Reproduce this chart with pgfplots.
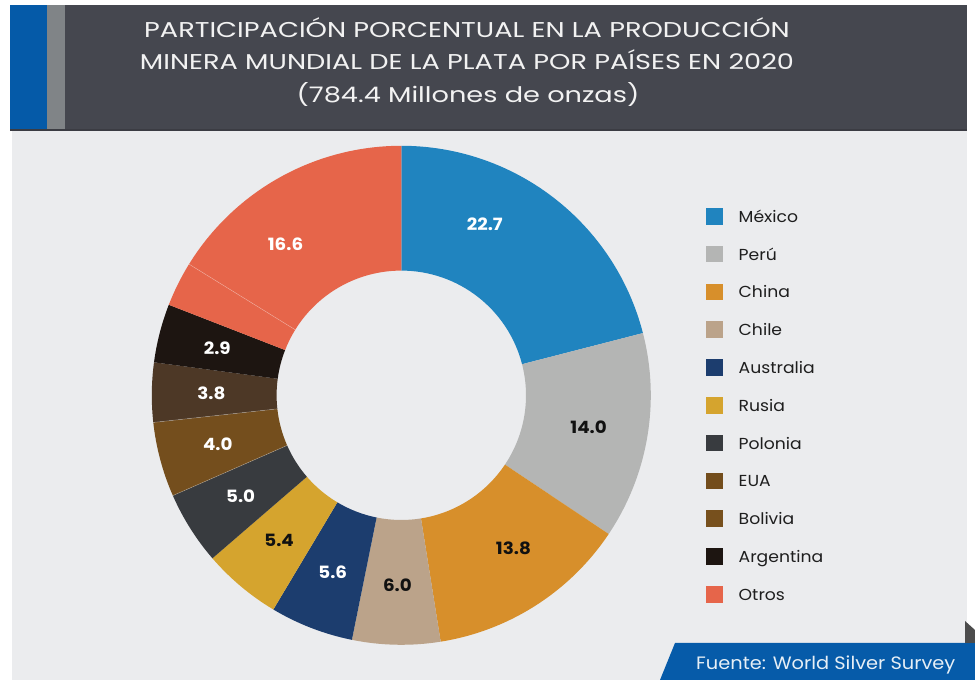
\documentclass[border=0pt]{standalone}
\usepackage{pgfplots}
\usepackage{pgfplotstable}
\pgfplotsset{compat=1.18}
\usepackage{fontspec}
\setmainfont{Poppins}[FakeStretch=1.08]
\newfontfamily\titlefont{Poppins}[FakeStretch=1.27]

\definecolor{bgc}{HTML}{EBECEE}
\definecolor{hdr}{HTML}{45474F}
\definecolor{stripeblue}{HTML}{055AA8}
\definecolor{stripegray}{HTML}{808487}
\definecolor{footblue}{HTML}{065BA9}
\definecolor{cMex}{HTML}{2084BF}
\definecolor{cPer}{HTML}{B4B5B4}
\definecolor{cChi}{HTML}{D78F2B}
\definecolor{cChl}{HTML}{BBA38A}
\definecolor{cAus}{HTML}{1C3D6E}
\definecolor{cRus}{HTML}{D5A42E}
\definecolor{cPol}{HTML}{383B3F}
\definecolor{cEUA}{HTML}{744E1D}
\definecolor{cBol}{HTML}{4D3826}
\definecolor{lEUA}{HTML}{734D1C}
\definecolor{lBol}{HTML}{77501D}
\definecolor{cArg}{HTML}{1D1511}
\definecolor{cOtr}{HTML}{E6654A}
\definecolor{legtext}{HTML}{1E1E1E}
\definecolor{labdark}{HTML}{111111}

\newcommand\ttl{\titlefont\fontsize{21.5}{24}\selectfont}
\newcommand\leg{\fontsize{16}{19}\selectfont}
\newcommand\lab{\fontsize{17}{20}\selectfont\bfseries}

% share = size of the slice as drawn (percent of the ring), label = printed value
\pgfplotstableread[col sep=comma]{
name,share,label,fill,lcol,tcol,dl
México,21.0,22.7,cMex,cMex,white,11.7
Perú,13.4,14.0,cPer,cPer,labdark,0
China,13.1,13.8,cChi,cChi,labdark,3.5
Chile,5.7,6.0,cChl,cChl,labdark,0
Australia,5.4,5.6,cAus,cAus,white,0
Rusia,5.1,5.4,cRus,cRus,labdark,0
Polonia,4.75,5.0,cPol,cPol,white,0
EUA,4.85,4.0,cEUA,lEUA,white,0
Bolivia,3.85,3.8,cBol,lBol,white,0
Argentina,3.8,2.9,cArg,cArg,white,0
Otros,2.9,{},cOtr,cOtr,white,0
Otros,16.2,16.6,cOtr,cOtr,white,8.4
}\slices

\begin{document}%
\begin{tikzpicture}
% slice angles (clockwise from the top)
\gdef\tot{0}
\foreach \i in {0,...,11}{%
  \pgfplotstablegetelem{\i}{share}\of\slices
  \pgfmathsetmacro\tmpsum{\tot+\pgfplotsretval}\xdef\tot{\tmpsum}}
\gdef\cum{0}
\foreach \i in {0,...,11}{%
  \pgfplotstablegetelem{\i}{share}\of\slices
  \pgfmathsetmacro\sA{90-\cum/\tot*360}%
  \pgfmathsetmacro\cc{\cum+\pgfplotsretval}\xdef\cum{\cc}%
  \pgfmathsetmacro\sB{90-\cum/\tot*360}%
  \pgfplotstablegetelem{\i}{dl}\of\slices
  \pgfmathsetmacro\sM{(\sA+\sB)/2+\pgfplotsretval}%
  \expandafter\xdef\csname sa\i\endcsname{\sA}%
  \expandafter\xdef\csname sb\i\endcsname{\sB}%
  \expandafter\xdef\csname sm\i\endcsname{\sM}%
  \pgfplotstablegetelem{\i}{label}\of\slices
  \expandafter\xdef\csname lb\i\endcsname{\pgfplotsretval}%
  \pgfplotstablegetelem{\i}{name}\of\slices
  \expandafter\xdef\csname nm\i\endcsname{\pgfplotsretval}%
  \pgfplotstablegetelem{\i}{fill}\of\slices
  \xglobal\colorlet{sl\i}{\pgfplotsretval}%
  \pgfplotstablegetelem{\i}{lcol}\of\slices
  \xglobal\colorlet{lg\i}{\pgfplotsretval}%
  \pgfplotstablegetelem{\i}{tcol}\of\slices
  \xglobal\colorlet{tx\i}{\pgfplotsretval}%
}
\begin{axis}[
    x=1bp, y=1bp,
    xmin=0, xmax=975, ymin=0, ymax=680,
    hide axis,
    clip=false,
]
\coordinate (bbsw) at (axis cs:0,0);
\coordinate (bbne) at (axis cs:975,680);
% background, header and footer
\fill[white] (axis cs:0,0) rectangle (axis cs:975,680);
\fill[bgc] (axis cs:12,0) rectangle (axis cs:967,550);
\fill[hdr] (axis cs:10,549) rectangle (axis cs:967,675);
\fill[hdr!85!black] (axis cs:10,548.5) rectangle (axis cs:967,551);
\fill[stripeblue] (axis cs:10,551) rectangle (axis cs:47,675);
\fill[stripegray] (axis cs:47,551) rectangle (axis cs:65,675);
\node[anchor=base, font=\ttl, text=white!95!black] at (axis cs:467,642.7)
    {PARTICIPACIÓN PORCENTUAL EN LA PRODUCCIÓN};
\node[anchor=base, font=\ttl, text=white!95!black] at (axis cs:467,610)
    {MINERA MUNDIAL DE LA PLATA POR PAÍSES EN 2020};
\node[anchor=base, font=\ttl, text=white!95!black] at (axis cs:468,577.5)
    {(784.4 Millones de onzas)};

% ring
\pgfplotsinvokeforeach{0,...,11}{
  \fill[sl#1] (axis cs:401.3,284.7) ++(\csname sa#1\endcsname:249.5bp)
    arc[start angle=\csname sa#1\endcsname, end angle=\csname sb#1\endcsname, radius=249.5bp]
    -- ++(\csname sb#1\endcsname+180:124.8bp)
    arc[start angle=\csname sb#1\endcsname, end angle=\csname sa#1\endcsname, radius=124.7bp]
    -- cycle;
}
% faint separators
\pgfplotsinvokeforeach{6,7,10}{
  \draw[white, opacity=0.35, line width=0.5bp]
    (axis cs:401.3,284.7) ++(\csname sb#1\endcsname:124.7bp) -- ++(\csname sb#1\endcsname:124.8bp);
}
% value labels
\pgfplotsinvokeforeach{0,...,11}{
  \path (axis cs:401.3,284.7) ++(\csname sm#1\endcsname:190bp)
    node[text=tx#1, font=\lab] {\csname lb#1\endcsname};
}
% legend
\pgfplotsinvokeforeach{0,...,9,11}{
  \fill[lg#1] (axis cs:706,{472-37.8*min(#1,10)}) rectangle ++(16.7bp,-16.7bp);
  \node[anchor=base west, font=\leg, text=legtext, inner sep=0pt]
    at (axis cs:738.5,{457.7-37.8*min(#1,10)}) {\csname nm#1\endcsname};
}

% source banner
\fill[footblue] (axis cs:675,37) -- (axis cs:975,37) -- (axis cs:975,0) -- (axis cs:660,0) -- cycle;
\fill[black!70] (axis cs:965,59) -- (axis cs:975,50) -- (axis cs:975,37) -- (axis cs:965,37) -- cycle;
\node[anchor=base west, inner sep=0pt, font=\fontsize{18}{20}\selectfont, text=white!90!footblue]
    at (axis cs:696,10) {Fuente: World Silver Survey};
\end{axis}
\pgfresetboundingbox
\path[use as bounding box] (bbsw) rectangle (bbne);
\end{tikzpicture}%
\end{document}
